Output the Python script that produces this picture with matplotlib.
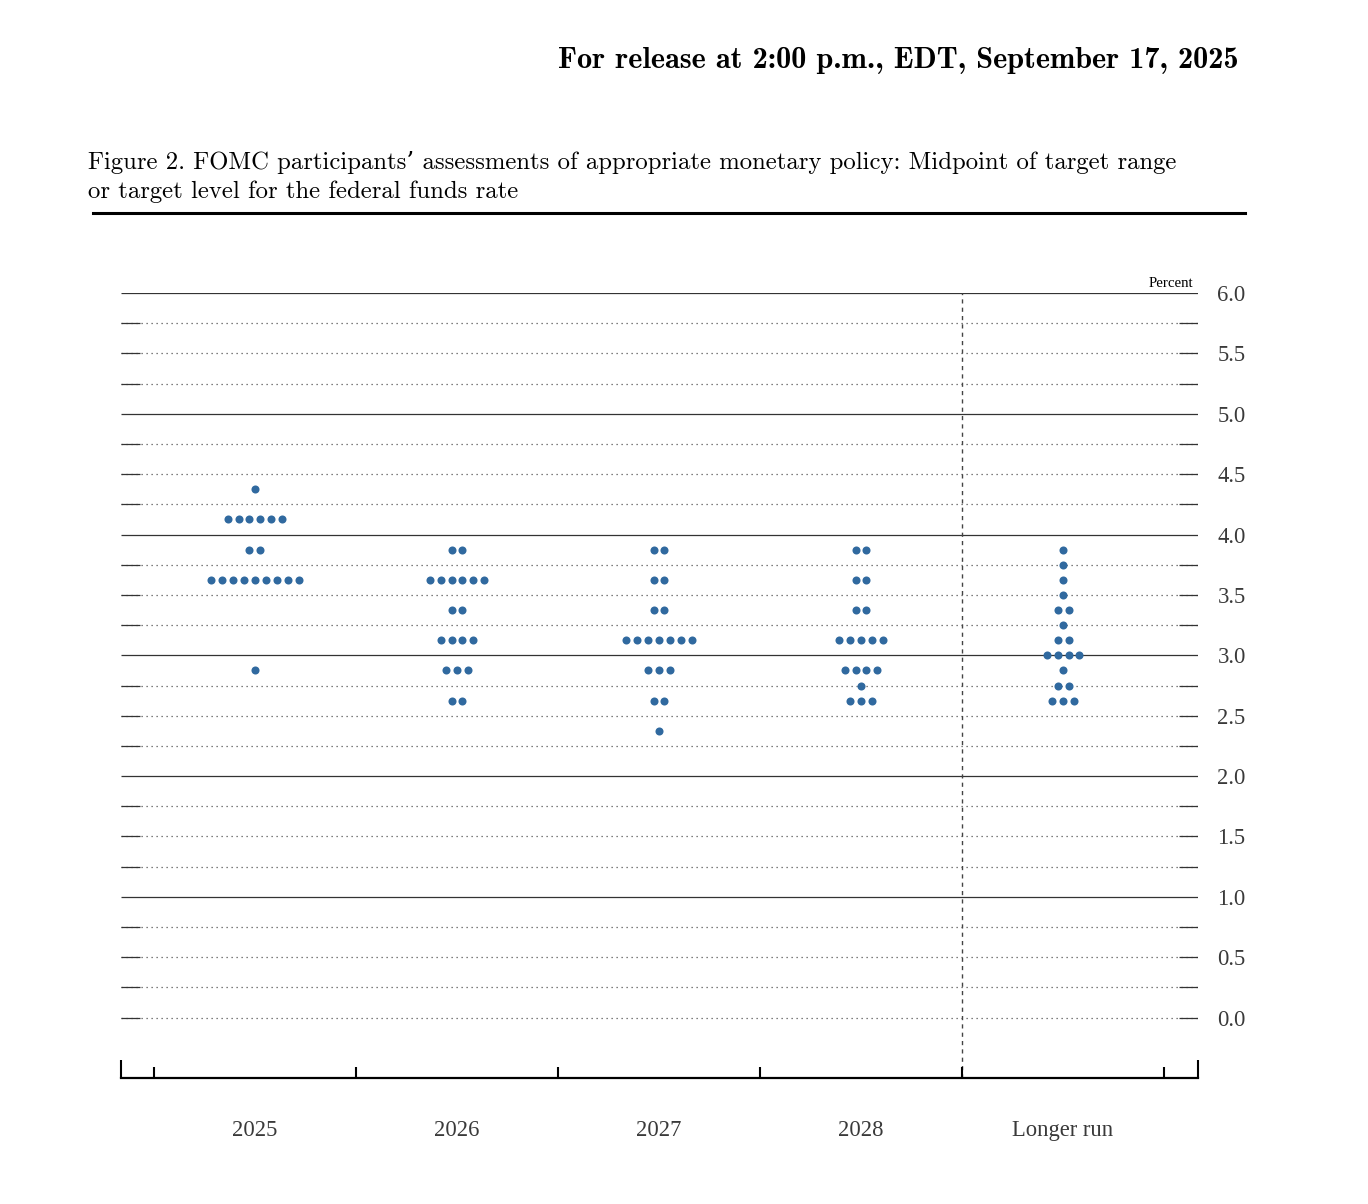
import numpy as np
import matplotlib.pyplot as plt

categories = ['2025', '2026', '2027', '2028', 'Longer run']

rates_2025 = [4.375, 4.125, 3.875, 3.625, 2.875]
counts_2025 = [1, 6, 2, 9, 1]
rates_2026 = [3.875, 3.625, 3.375, 3.125, 2.875, 2.625]
counts_2026 = [2, 6, 2, 4, 3, 2]
rates_2027 = [3.875, 3.625, 3.375, 3.125, 2.875, 2.625, 2.375]
counts_2027 = [2, 2, 2, 7, 3, 2, 1]
rates_2028 = [3.875, 3.625, 3.375, 3.125, 2.875, 2.75, 2.625]
counts_2028 = [2, 2, 2, 5, 4, 1, 3]
rates_lr = [3.875, 3.75, 3.625, 3.5, 3.375, 3.25, 3.125, 3.0, 2.875, 2.75, 2.625]
counts_lr = [1, 1, 1, 1, 2, 1, 2, 4, 1, 2, 3]

all_rates = [rates_2025, rates_2026, rates_2027, rates_2028, rates_lr]
all_counts = [counts_2025, counts_2026, counts_2027, counts_2028, counts_lr]

ytick_vals = np.arange(0, 6.01, 0.5)
solid_levels = [1, 2, 3, 4, 5, 6]
dotted_levels = [v for v in np.arange(0, 6.01, 0.25) if v not in solid_levels]

serif = ['Liberation Serif', 'DejaVu Serif']
cm = ['cmr10', 'DejaVu Serif']
cmb = ['cmb10', 'DejaVu Serif']
dot_color = '#30699f'
text_color = '#3a3a3a'

fig = plt.figure(figsize=(13.68, 12.04), dpi=100)

fig.text(1238 / 1368, 1 - 60 / 1204, 'For release at 2:00 p.m., EDT, September 17, 2025',
         ha='right', va='center', fontsize=21.8, family=cmb, color='black')
fig.text(88 / 1368, 1 - 162 / 1204,
         'Figure 2. FOMC participants\u2019 assessments of appropriate monetary policy: Midpoint of target range',
         ha='left', va='center', fontsize=17.8, family=cm, color='black')
fig.text(88 / 1368, 1 - 192 / 1204, 'or target level for the federal funds rate',
         ha='left', va='center', fontsize=17.8, family=cm, color='black')
fig.add_artist(plt.Line2D([93 / 1368, 1245 / 1368], [1 - 213 / 1204] * 2,
                          color='black', lw=2.2, transform=fig.transFigure))

ax = fig.add_axes([121 / 1368, 126 / 1204, 1077 / 1368, 785 / 1204])
ax.set_xlim(-0.663, 4.668)
ax.set_ylim(-0.5, 6.0)

# grid: solid at whole percents, dotted at quarter points with short solid stubs at each end
ytr = ax.get_yaxis_transform()
ax.hlines(solid_levels, 0, 1, transform=ytr, color='#333333', lw=0.9, zorder=1)
ax.hlines(dotted_levels, 0, 1, transform=ytr, color='#555555', lw=0.9,
          linestyles=[(0, (1, 3))], zorder=1)
stub = 19 / 1077
ax.hlines(dotted_levels, 0, stub, transform=ytr, color='#333333', lw=0.9, zorder=1)
ax.hlines(dotted_levels, 1 - stub, 1, transform=ytr, color='#333333', lw=0.9, zorder=1)

# separator before the longer run
ax.vlines(3.5, -0.5, 6.0, color='#444444', lw=1.0, linestyles=[(0, (3, 3))], zorder=1)

# dots
step = 0.054
for i, (rates, counts) in enumerate(zip(all_rates, all_counts)):
    for r, n in zip(rates, counts):
        xs = i + (np.arange(n) - (n - 1) / 2) * step
        ax.plot(xs, [r] * n, 'o', color=dot_color, ms=5.8, mec='none', zorder=3)

for s in ['top', 'left', 'right']:
    ax.spines[s].set_visible(False)
ax.spines['bottom'].set_linewidth(1.6)
ax.spines['bottom'].set_color('black')

# x axis: boundary ticks, category labels as minor ticks
ax.set_xticks(np.arange(-0.5, 4.6, 1.0))
ax.set_xticklabels([])
ax.tick_params(axis='x', which='major', direction='in', length=8, width=1.5, color='black')
ax.set_xticks(range(len(categories)), minor=True)
ax.set_xticklabels(categories, minor=True, family=serif, fontsize=16.3, color=text_color)
ax.tick_params(axis='x', which='minor', length=0, pad=30)
xtr = ax.get_xaxis_transform()
ax.vlines([-0.663, 4.668], 0, 18 / 785, transform=xtr, color='black', lw=1.5, clip_on=False)

# y axis labels on the right
ax.yaxis.tick_right()
ax.set_yticks(ytick_vals)
ax.set_yticklabels([f'{v:.1f}' for v in ytick_vals], family=serif, fontsize=16.3, color=text_color)
ax.tick_params(axis='y', length=0, pad=14)

ax.text(1193 / 1368, 1 - 283 / 1204, 'Percent', transform=fig.transFigure,
        ha='right', va='center', fontsize=10.7, family=serif, color='black')

fig.savefig('out.png', dpi=100)
